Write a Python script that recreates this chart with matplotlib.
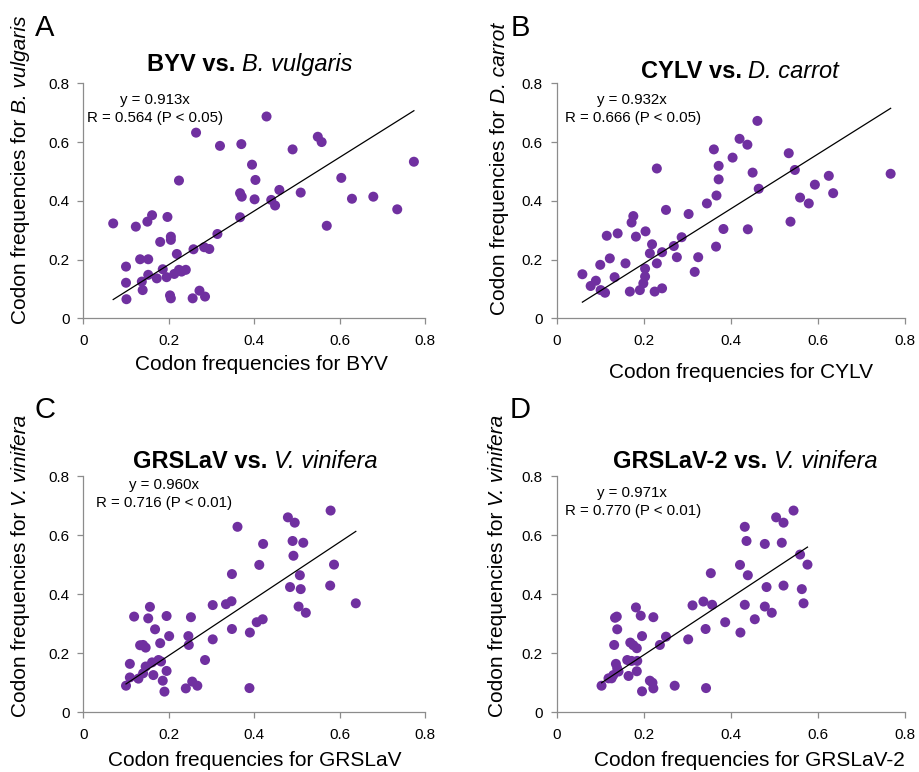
import matplotlib
matplotlib.use("Agg")
import matplotlib.pyplot as plt
import numpy as np

plt.rcParams['font.family'] = ['Liberation Sans', 'DejaVu Sans']

# panel A: BYV vs B. vulgaris
a_x = [0.070, 0.100, 0.100, 0.101, 0.123, 0.133, 0.152, 0.150, 0.161, 0.137,
       0.139, 0.152, 0.172, 0.180, 0.186, 0.197, 0.195, 0.205, 0.205, 0.203,
       0.205, 0.213, 0.219, 0.224, 0.224, 0.230, 0.240, 0.258, 0.256, 0.264,
       0.272, 0.285, 0.283, 0.295, 0.314, 0.320, 0.367, 0.370, 0.367, 0.371,
       0.395, 0.403, 0.401, 0.429, 0.440, 0.449, 0.459, 0.490, 0.509, 0.549,
       0.558, 0.570, 0.604, 0.629, 0.679, 0.735, 0.774]
a_y = [0.323, 0.176, 0.121, 0.065, 0.312, 0.201, 0.201, 0.329, 0.351, 0.125,
       0.096, 0.148, 0.136, 0.260, 0.167, 0.345, 0.140, 0.278, 0.267, 0.078,
       0.068, 0.151, 0.219, 0.469, 0.165, 0.159, 0.165, 0.235, 0.068, 0.632,
       0.094, 0.074, 0.242, 0.236, 0.287, 0.587, 0.344, 0.593, 0.426, 0.414,
       0.523, 0.471, 0.405, 0.687, 0.403, 0.384, 0.437, 0.575, 0.428, 0.618,
       0.600, 0.315, 0.478, 0.407, 0.414, 0.371, 0.533]

# panel B: CYLV vs D. carrot
b_x = [0.059, 0.078, 0.090, 0.100, 0.101, 0.111, 0.115, 0.122, 0.133, 0.140,
       0.158, 0.168, 0.172, 0.176, 0.182, 0.191, 0.199, 0.203, 0.204, 0.203,
       0.214, 0.219, 0.225, 0.230, 0.230, 0.242, 0.242, 0.251, 0.269, 0.276,
       0.287, 0.303, 0.317, 0.325, 0.345, 0.361, 0.366, 0.367, 0.372, 0.372,
       0.383, 0.404, 0.420, 0.438, 0.439, 0.450, 0.461, 0.464, 0.533, 0.537,
       0.547, 0.559, 0.579, 0.593, 0.625, 0.635, 0.767]
b_y = [0.150, 0.110, 0.128, 0.182, 0.096, 0.087, 0.281, 0.204, 0.140, 0.289,
       0.187, 0.091, 0.326, 0.348, 0.278, 0.096, 0.119, 0.169, 0.296, 0.142,
       0.221, 0.252, 0.091, 0.187, 0.510, 0.102, 0.225, 0.369, 0.246, 0.208,
       0.276, 0.355, 0.158, 0.208, 0.391, 0.575, 0.244, 0.418, 0.519, 0.473,
       0.304, 0.547, 0.611, 0.591, 0.303, 0.496, 0.672, 0.441, 0.562, 0.329,
       0.505, 0.411, 0.391, 0.455, 0.485, 0.426, 0.492]

# panel C: GRSLaV vs V. vinifera
c_x = [0.100, 0.109, 0.109, 0.119, 0.129, 0.133, 0.140, 0.146, 0.140, 0.146,
       0.152, 0.156, 0.161, 0.164, 0.168, 0.176, 0.180, 0.182, 0.186, 0.190,
       0.195, 0.195, 0.201, 0.240, 0.246, 0.247, 0.252, 0.255, 0.267, 0.285,
       0.303, 0.303, 0.334, 0.347, 0.348, 0.348, 0.361, 0.390, 0.389, 0.406,
       0.412, 0.420, 0.421, 0.479, 0.484, 0.492, 0.490, 0.495, 0.504, 0.507,
       0.509, 0.515, 0.521, 0.578, 0.579, 0.587, 0.638]
c_y = [0.090, 0.164, 0.118, 0.324, 0.114, 0.227, 0.228, 0.219, 0.132, 0.155,
       0.318, 0.357, 0.169, 0.126, 0.281, 0.177, 0.234, 0.172, 0.107, 0.070,
       0.326, 0.140, 0.258, 0.081, 0.258, 0.228, 0.322, 0.104, 0.090, 0.177,
       0.363, 0.247, 0.366, 0.376, 0.468, 0.282, 0.628, 0.270, 0.082, 0.305,
       0.499, 0.315, 0.570, 0.660, 0.424, 0.530, 0.580, 0.642, 0.358, 0.464,
       0.417, 0.574, 0.337, 0.429, 0.683, 0.500, 0.369]

# panel D: GRSLaV-2 vs V. vinifera
d_x = [0.103, 0.119, 0.126, 0.130, 0.132, 0.134, 0.138, 0.136, 0.139, 0.139,
       0.142, 0.162, 0.165, 0.169, 0.172, 0.176, 0.182, 0.184, 0.185, 0.184,
       0.193, 0.196, 0.196, 0.214, 0.220, 0.222, 0.222, 0.237, 0.251, 0.271,
       0.302, 0.312, 0.337, 0.342, 0.343, 0.354, 0.357, 0.387, 0.421, 0.422,
       0.432, 0.432, 0.436, 0.439, 0.455, 0.478, 0.478, 0.482, 0.494, 0.504,
       0.517, 0.521, 0.521, 0.544, 0.559, 0.563, 0.567, 0.576]
d_y = [0.090, 0.115, 0.115, 0.126, 0.228, 0.320, 0.324, 0.164, 0.149, 0.281,
       0.138, 0.177, 0.123, 0.236, 0.174, 0.227, 0.355, 0.217, 0.174, 0.139,
       0.327, 0.258, 0.071, 0.107, 0.100, 0.081, 0.322, 0.228, 0.256, 0.090,
       0.247, 0.362, 0.375, 0.282, 0.082, 0.471, 0.364, 0.305, 0.499, 0.270,
       0.628, 0.364, 0.580, 0.464, 0.315, 0.358, 0.570, 0.424, 0.337, 0.660,
       0.574, 0.642, 0.429, 0.683, 0.534, 0.417, 0.369, 0.500]

slopes = [0.913, 0.932, 0.960, 0.971]
stats = ["R = 0.564 (P < 0.05)", "R = 0.666 (P < 0.05)",
         "R = 0.716 (P < 0.01)", "R = 0.770 (P < 0.01)"]
letters = ["A", "B", "C", "D"]
viruses = ["BYV", "CYLV", "GRSLaV", "GRSLaV-2"]
hosts = ["B. vulgaris", "D. carrot", "V. vinifera", "V. vinifera"]
ticks = [0, 0.2, 0.4, 0.6, 0.8]
tick_labels = ["0", "0.2", "0.4", "0.6", "0.8"]

W, H = 919, 772
fig = plt.figure(figsize=(W / 100, H / 100), dpi=100)
renderer = fig.canvas.get_renderer()

def fx(x):
    return x / W

def fy(y):
    return 1 - y / H

def mixed_text(xc, yc, parts, size, vertical=False):
    # pieces of text with different weight/style, centred on (xc, yc) in pixels
    em = size * 100 / 72
    objs, widths = [], []
    for s, weight, style in parts:
        t = fig.text(0, 0, s, fontsize=size, fontweight=weight, fontstyle=style,
                     ha='left', va='baseline', rotation=90 if vertical else 0,
                     rotation_mode='anchor')
        bb = t.get_window_extent(renderer)
        objs.append(t)
        widths.append(bb.height if vertical else bb.width)
    gap = 0.278 * em
    total = sum(widths) + gap * (len(parts) - 1)
    pos = -total / 2
    base = 0.27 * em
    for t, wd in zip(objs, widths):
        if vertical:
            t.set_position((fx(xc + base), fy(yc - pos)))
        else:
            t.set_position((fx(xc + pos), fy(yc + base)))
        pos += wd + gap

# axes boxes in pixels: left, right, top, bottom
boxes = [(83.3, 425, 83.3, 318.3), (556.7, 905, 83.3, 318.3),
         (83.3, 425, 476, 712.3), (556.7, 905, 476, 712.3)]
letter_pos = [(45, 28), (520, 28), (45, 410), (520, 410)]
title_pos = [(250, 65), (740, 72), (255, 462), (745, 462)]
xlab_pos = [(261, 364), (741, 373), (255, 761), (749, 761)]
ylab_pos = [(20, 170), (499, 169), (20, 566), (497, 566)]
eq_pos = [(155, 100), (632, 100), (164, 485), (632, 493)]
r_pos = [(155, 118), (633, 118), (164, 503), (633, 511)]

data = [(a_x, a_y), (b_x, b_y), (c_x, c_y), (d_x, d_y)]
purple = "#7030A0"
gray = "#8c8c8c"

for i in range(4):
    l, r, t, b = boxes[i]
    ax = fig.add_axes([fx(l), fy(b), (r - l) / W, (b - t) / H])
    x = np.array(data[i][0])
    y = np.array(data[i][1])
    ax.scatter(x, y, s=52, color=purple, edgecolors='none', zorder=3)
    # trendline through origin
    xl = np.array([x.min(), x.max()])
    ax.plot(xl, slopes[i] * xl, color='black', lw=0.9, zorder=4)
    ax.set_xlim(0, 0.8)
    ax.set_ylim(0, 0.8)
    ax.set_xticks(ticks)
    ax.set_xticklabels(tick_labels)
    ax.set_yticks(ticks)
    ax.set_yticklabels(tick_labels)
    ax.spines['top'].set_visible(False)
    ax.spines['right'].set_visible(False)
    for s in ['left', 'bottom']:
        ax.spines[s].set_color(gray)
        ax.spines[s].set_linewidth(0.9)
    ax.tick_params(axis='both', color=gray, length=4, width=0.9, labelsize=11)
    ax.tick_params(axis='x', pad=7)
    ax.tick_params(axis='y', pad=6)
    ax.patch.set_visible(False)

    fig.text(fx(letter_pos[i][0]), fy(letter_pos[i][1]), letters[i],
             fontsize=21, ha='center', va='center')
    mixed_text(title_pos[i][0], title_pos[i][1],
               [(viruses[i] + " vs.", 'bold', 'normal'), (hosts[i], 'normal', 'italic')], 17)
    fig.text(fx(xlab_pos[i][0]), fy(xlab_pos[i][1]), "Codon frequencies for " + viruses[i],
             fontsize=15, ha='center', va='center')
    mixed_text(ylab_pos[i][0], ylab_pos[i][1],
               [("Codon frequencies for", 'normal', 'normal'), (hosts[i], 'normal', 'italic')],
               15, vertical=True)
    fig.text(fx(eq_pos[i][0]), fy(eq_pos[i][1]), "y = %.3fx" % slopes[i],
             fontsize=10.8, ha='center', va='center')
    fig.text(fx(r_pos[i][0]), fy(r_pos[i][1]), stats[i],
             fontsize=10.8, ha='center', va='center')

fig.savefig("out.png", dpi=100)
